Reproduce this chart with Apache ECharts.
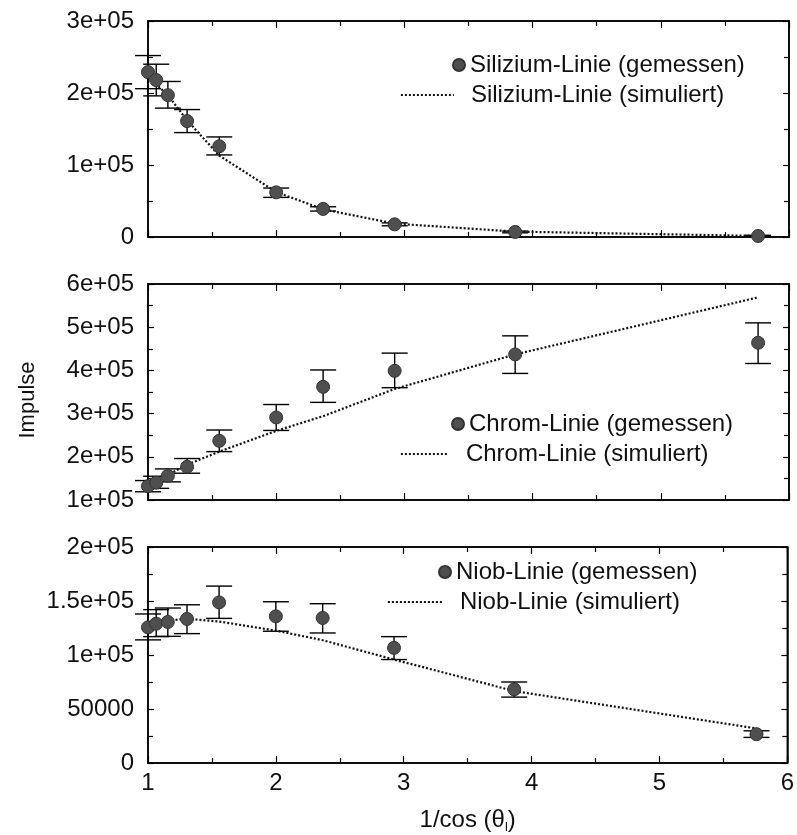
<!DOCTYPE html>
<html><head><meta charset="utf-8">
<script src="https://cdn.jsdelivr.net/npm/echarts@6/dist/echarts.min.js"></script>
<style>html,body{margin:0;padding:0;background:#fff}#c{width:797px;height:835px}</style>
</head><body><div id="c"></div>
<script>
// x = 1/cos(theta)
const xVals = [1.0, 1.064, 1.155, 1.305, 1.556, 2.0, 2.366, 2.924, 3.864, 5.759];

// Silizium
const siMeas  = [229000, 218000, 197000, 161000, 126000, 62000, 39000, 17600, 7000, 1400];
const siErrLo = [206000, 196000, 179000, 145000, 114000, 55000, 36000, 15600, 5800, 400];
const siErrHi = [252000, 240000, 216000, 177000, 139000, 68000, 42000, 19600, 8200, 2400];
const siSim   = [226000, 212000, 197000, 162000, 113000, 62500, 38500, 18600, 7500, 1500];

// Chrom
const crMeas  = [132000, 140000, 156000, 177000, 237000, 291000, 362000, 399000, 437000, 464000];
const crErrLo = [119000, 127000, 142000, 162000, 212000, 261000, 326000, 360000, 393000, 416000];
const crErrHi = [145000, 155000, 172000, 196000, 262000, 321000, 401000, 440000, 480000, 510000];
const crSim   = [138000, 145000, 158000, 182000, 212000, 260000, 294000, 357000, 437000, 569000];

// Niob
const nbMeas  = [125600, 129000, 130600, 133400, 148700, 135800, 134300, 106600, 68200, 26700];
const nbErrLo = [114000, 117000, 117300, 119800, 133900, 122000, 120400, 95800, 61000, 23700];
const nbErrHi = [138000, 142000, 143500, 146500, 163800, 149300, 147500, 117000, 75000, 29800];
const nbSim   = [128000, 130000, 132000, 133500, 131000, 122600, 113700, 95800, 66600, 32000];

const xTickLabels = ['1', '2', '3', '4', '5', '6'];
const siTickLabels = ['0', '1e+05', '2e+05', '3e+05'];
const crTickLabels = ['1e+05', '2e+05', '3e+05', '4e+05', '5e+05', '6e+05'];
const nbTickLabels = ['0', '50000', '1e+05', '1.5e+05', '2e+05'];

const names = [
  ['Silizium-Linie (gemessen)', 'Silizium-Linie (simuliert)'],
  ['Chrom-Linie (gemessen)', 'Chrom-Linie (simuliert)'],
  ['Niob-Linie (gemessen)', 'Niob-Linie (simuliert)']
];

const FONT = 'Liberation Sans, Arial, Helvetica, sans-serif';
const FS = 24;

const grids = [
  {left: 148, right: 8, top: 21, height: 216},
  {left: 148, right: 8, top: 284, height: 216},
  {left: 148, right: 8, top: 547, height: 217}
].map(g => Object.assign(g, {show: true, borderColor: '#000', borderWidth: 1.5, backgroundColor: 'transparent'}));

const axisLine = {show: true, onZero: false, lineStyle: {color: '#000', width: 1.5}};

const xAxes = [];
const yAxes = [];
const yCfg = [
  {min: 0, max: 300000, interval: 100000, labels: siTickLabels, base: 0, split: 2},
  {min: 100000, max: 600000, interval: 100000, labels: crTickLabels, base: 100000, split: 2},
  {min: 0, max: 200000, interval: 50000, labels: nbTickLabels, base: 0, split: 2}
];
for (let i = 0; i < 3; i++) {
  ['bottom', 'top'].forEach(pos => {
    const showLab = (i === 2 && pos === 'bottom');
    const ax = {
      type: 'value', gridIndex: i, position: pos, min: 1, max: 6, interval: 1,
      axisLine: axisLine,
      axisTick: {show: true, inside: true, length: 7, lineStyle: {color: '#000', width: 1.2}},
      minorTick: {show: true, splitNumber: 2, length: 5, lineStyle: {color: '#000', width: 1.2}},
      splitLine: {show: false}, minorSplitLine: {show: false},
      axisLabel: {show: showLab, fontSize: FS, fontFamily: FONT, color: '#111', margin: 8,
        formatter: v => xTickLabels[Math.round(v - 1)]}
    };
    if (showLab) {
      ax.name = '1/cos (θ{s|l})';
      ax.nameLocation = 'middle';
      ax.nameGap = 44;
      ax.nameTextStyle = {fontSize: FS, fontFamily: FONT, color: '#111',
        rich: {s: {fontSize: 13, fontFamily: FONT, color: '#111', padding: [14, 0, 0, 0]}}};
    }
    xAxes.push(ax);
  });
  const c = yCfg[i];
  ['left', 'right'].forEach(pos => {
    yAxes.push({
      type: 'value', gridIndex: i, position: pos, min: c.min, max: c.max, interval: c.interval,
      axisLine: axisLine,
      axisTick: {show: true, inside: true, length: 6, lineStyle: {color: '#000', width: 1.2}},
      minorTick: {show: true, splitNumber: c.split, length: 5, lineStyle: {color: '#000', width: 1.2}},
      splitLine: {show: false}, minorSplitLine: {show: false},
      axisLabel: {show: pos === 'left', fontSize: FS, fontFamily: FONT, color: '#111', margin: 14,
        formatter: v => c.labels[Math.round((v - c.base) / c.interval)]}
    });
  });
}

function errRender(params, api) {
  const x = api.value(0), lo = api.value(1), hi = api.value(2);
  const p1 = api.coord([x, lo]), p2 = api.coord([x, hi]);
  const w = 13;
  const st = {stroke: '#000', lineWidth: 1.4, fill: null};
  return {type: 'group', children: [
    {type: 'line', shape: {x1: p1[0], y1: p1[1], x2: p2[0], y2: p2[1]}, style: st},
    {type: 'line', shape: {x1: p1[0] - w, y1: p1[1], x2: p1[0] + w, y2: p1[1]}, style: st},
    {type: 'line', shape: {x1: p2[0] - w, y1: p2[1], x2: p2[0] + w, y2: p2[1]}, style: st}
  ]};
}

const meas = [siMeas, crMeas, nbMeas];
const lo = [siErrLo, crErrLo, nbErrLo];
const hi = [siErrHi, crErrHi, nbErrHi];
const sim = [siSim, crSim, nbSim];

const series = [];
for (let i = 0; i < 3; i++) {
  series.push({
    type: 'custom', xAxisIndex: 2 * i, yAxisIndex: 2 * i, z: 2, silent: true,
    renderItem: errRender, encode: {x: 0, y: [1, 2]},
    data: xVals.map((x, k) => [x, lo[i][k], hi[i][k]])
  });
  series.push({
    name: names[i][1], type: 'line', xAxisIndex: 2 * i, yAxisIndex: 2 * i, z: 3,
    symbol: 'none', silent: true,
    lineStyle: {color: '#111', width: 2.2, type: [2, 2]}, itemStyle: {color: '#111'},
    data: xVals.map((x, k) => [x, sim[i][k]])
  });
  series.push({
    name: names[i][0], type: 'scatter', xAxisIndex: 2 * i, yAxisIndex: 2 * i, z: 4,
    symbol: 'circle', symbolSize: 13, silent: true,
    itemStyle: {color: '#4f4f4f', borderColor: '#333', borderWidth: 1, opacity: 1},
    data: xVals.map((x, k) => [x, meas[i][k]])
  });
}

function leg(name, left, top, iw, padL, isLine) {
  const l = {
    data: [name], left: left, top: top, padding: 0, itemWidth: iw, itemHeight: 12,
    selectedMode: false, orient: 'horizontal',
    textStyle: {fontSize: FS, fontFamily: FONT, color: '#111', padding: [0, 0, 0, padL]}
  };
  if (isLine) {
    l.itemStyle = {opacity: 0, color: 'rgba(0,0,0,0)', borderColor: 'rgba(0,0,0,0)', borderWidth: 0};
    l.lineStyle = {width: 1.8};
  }
  return l;
}
const legends = [
  leg(names[0][0], 452, 53, 12, 0, false),
  leg(names[0][1], 400, 83, 53, 12, true),
  leg(names[1][0], 451, 412, 12, 0, false),
  leg(names[1][1], 400, 442, 48, 12, true),
  leg(names[2][0], 438, 560, 12, 0, false),
  leg(names[2][1], 387, 590, 56, 11, true)
];

const chart = echarts.init(document.getElementById('c'), null, {renderer: 'canvas'});
chart.setOption({
  animation: false,
  backgroundColor: '#fff',
  grid: grids,
  xAxis: xAxes,
  yAxis: yAxes,
  legend: legends,
  series: series,
  graphic: [{
    type: 'text', x: 28, y: 400, rotation: Math.PI / 2,
    style: {text: 'Impulse', fontSize: 22, fontFamily: FONT, fill: '#111',
      align: 'center', verticalAlign: 'middle'}
  }]
});
</script>
</body></html>
